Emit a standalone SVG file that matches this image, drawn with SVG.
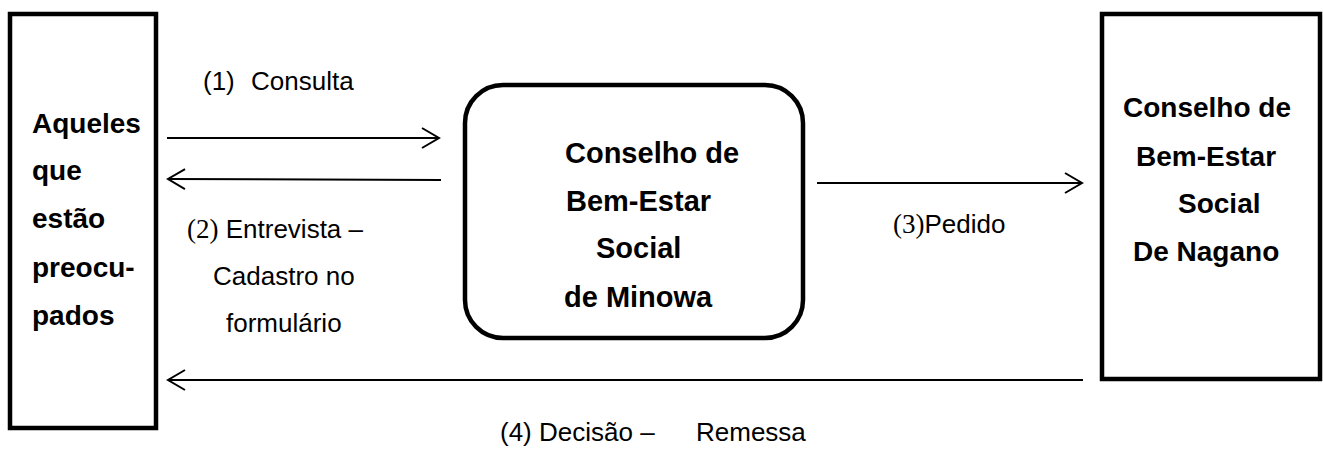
<svg xmlns="http://www.w3.org/2000/svg" width="1323" height="450" viewBox="0 0 1323 450">
<style>
.box{fill:#fff;stroke:#000;stroke-width:4.5}
.b{font-family:"Liberation Sans",Arial,sans-serif;font-weight:bold;font-size:28px;fill:#000}
.bc{font-size:29px}
.t{font-family:"Liberation Sans",Arial,sans-serif;font-size:26px;fill:#000}
.s{font-family:"Liberation Serif","Times New Roman",serif;font-size:27px}
.ln{stroke:#000;stroke-width:2;fill:none;marker-end:url(#arr)}
</style>
<defs>
<marker id="arr" markerUnits="userSpaceOnUse" viewBox="-20 -12 22 24" refX="0" refY="0" markerWidth="22" markerHeight="24" orient="auto">
<path d="M-17,-10 L0,0 L-17,10" fill="none" stroke="#000" stroke-width="2"/>
</marker>
</defs>
<rect width="1323" height="450" fill="#fff"/>
<g id="node-aqueles">
<rect class="box" x="10" y="14" width="146" height="414"/>
<text class="b" x="32" y="133">Aqueles</text>
<text class="b" x="32" y="180">que</text>
<text class="b" x="32" y="228">estão</text>
<text class="b" x="32" y="277">preocu-</text>
<text class="b" x="32" y="325">pados</text>
</g>
<g id="node-minowa">
<rect class="box" x="465" y="85" width="338" height="253" rx="38" ry="38"/>
<text class="b bc" x="565" y="163">Conselho de</text>
<text class="b bc" x="566" y="211">Bem-Estar</text>
<text class="b bc" x="596" y="258">Social</text>
<text class="b bc" x="564" y="307">de Minowa</text>
</g>
<g id="node-nagano">
<rect class="box" x="1102" y="14" width="218" height="365"/>
<text class="b" x="1123" y="117">Conselho de</text>
<text class="b" x="1136" y="166">Bem-Estar</text>
<text class="b" x="1178" y="213">Social</text>
<text class="b" x="1133" y="261">De Nagano</text>
</g>
<g id="connectors">
<line class="ln" x1="167" y1="138" x2="439" y2="138"/>
<line class="ln" x1="441" y1="180" x2="168" y2="179"/>
<line class="ln" x1="817" y1="183" x2="1082" y2="183"/>
<line class="ln" x1="1083" y1="380" x2="168" y2="380"/>
</g>
<g id="labels">
<text class="t" x="203" y="90">(1)</text>
<text class="t" x="251" y="90">Consulta</text>
<text class="t" x="187" y="238"><tspan class="s">(2)</tspan> Entrevista –</text>
<text class="t" x="213" y="285">Cadastro no</text>
<text class="t" x="226" y="332">formulário</text>
<text class="t" x="893" y="233"><tspan class="s">(3)</tspan>Pedido</text>
<text class="t" x="500" y="441">(4) Decisão –</text>
<text class="t" x="696" y="441">Remessa</text>
</g>
</svg>
